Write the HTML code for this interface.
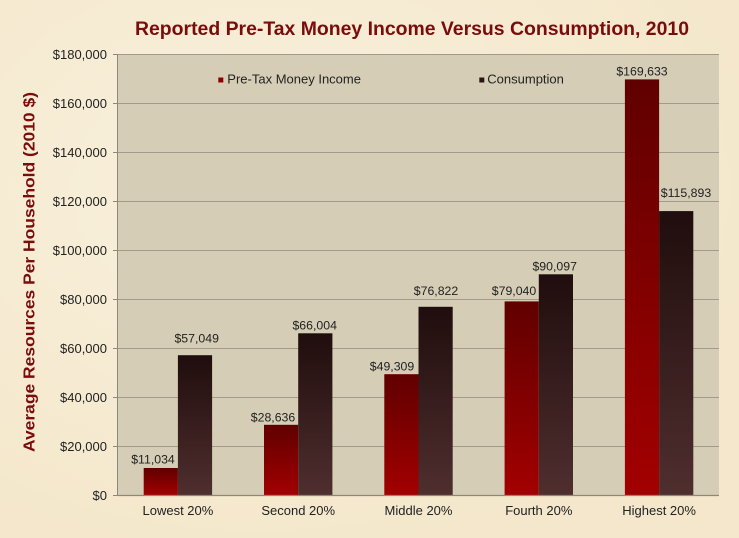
<!DOCTYPE html>
<html>
<head>
<meta charset="utf-8">
<style>
html,body{margin:0;padding:0;background:#f6ebd2;}
svg{display:block;}
text{font-family:"Liberation Sans",Arial,sans-serif;}
</style>
</head>
<body>
<svg width="739" height="538" viewBox="0 0 739 538" xmlns="http://www.w3.org/2000/svg">
<defs>
  <linearGradient id="inc" x1="0" y1="0" x2="0" y2="1">
    <stop offset="0" stop-color="#600000"/>
    <stop offset="1" stop-color="#a30000"/>
  </linearGradient>
  <linearGradient id="con" x1="0" y1="0" x2="0" y2="1">
    <stop offset="0" stop-color="#200d0d"/>
    <stop offset="1" stop-color="#4f2e2e"/>
  </linearGradient>
  <radialGradient id="bg1" cx="0.35" cy="0.35" r="0.7">
    <stop offset="0" stop-color="#f9f1dd"/>
    <stop offset="1" stop-color="#f4e7cb"/>
  </radialGradient>
</defs>
<rect x="0" y="0" width="739" height="538" fill="url(#bg1)"/>

<!-- Title -->
<text x="412" y="35" text-anchor="middle" font-size="19" font-weight="bold" fill="#7b0c0c" textLength="554" lengthAdjust="spacingAndGlyphs">Reported Pre-Tax Money Income Versus Consumption, 2010</text>

<!-- Plot area -->
<rect x="117.7" y="54" width="601.3" height="441" fill="#d5cdb6"/>

<!-- gridlines -->
<g stroke="#a39b8a" stroke-width="1">
  <line x1="117.7" y1="54.5" x2="719" y2="54.5"/>
  <line x1="117.7" y1="103.5" x2="719" y2="103.5"/>
  <line x1="117.7" y1="152.5" x2="719" y2="152.5"/>
  <line x1="117.7" y1="201.5" x2="719" y2="201.5"/>
  <line x1="117.7" y1="250.5" x2="719" y2="250.5"/>
  <line x1="117.7" y1="299.5" x2="719" y2="299.5"/>
  <line x1="117.7" y1="348.5" x2="719" y2="348.5"/>
  <line x1="117.7" y1="397.5" x2="719" y2="397.5"/>
  <line x1="117.7" y1="446.5" x2="719" y2="446.5"/>
</g>
<!-- ticks -->
<g stroke="#8f877a" stroke-width="1">
  <line x1="113" y1="54.5" x2="117.7" y2="54.5"/>
  <line x1="113" y1="103.5" x2="117.7" y2="103.5"/>
  <line x1="113" y1="152.5" x2="117.7" y2="152.5"/>
  <line x1="113" y1="201.5" x2="117.7" y2="201.5"/>
  <line x1="113" y1="250.5" x2="117.7" y2="250.5"/>
  <line x1="113" y1="299.5" x2="117.7" y2="299.5"/>
  <line x1="113" y1="348.5" x2="117.7" y2="348.5"/>
  <line x1="113" y1="397.5" x2="117.7" y2="397.5"/>
  <line x1="113" y1="446.5" x2="117.7" y2="446.5"/>
  <line x1="113" y1="495.5" x2="117.7" y2="495.5"/>
  <line x1="117.5" y1="54" x2="117.5" y2="495.5"/>
</g>

<!-- bars -->
<g fill="url(#inc)">
  <rect x="143.7" y="468.0" width="34.2" height="27.0"/>
  <rect x="264.0" y="424.8" width="34.2" height="70.2"/>
  <rect x="384.3" y="374.2" width="34.2" height="120.8"/>
  <rect x="504.6" y="301.4" width="34.2" height="193.6"/>
  <rect x="624.9" y="79.4" width="34.2" height="415.6"/>
</g>
<g fill="url(#con)">
  <rect x="177.9" y="355.2" width="34.2" height="139.8"/>
  <rect x="298.2" y="333.3" width="34.2" height="161.7"/>
  <rect x="418.5" y="306.8" width="34.2" height="188.2"/>
  <rect x="538.8" y="274.3" width="34.2" height="220.7"/>
  <rect x="659.1" y="211.1" width="34.2" height="283.9"/>
</g>

<!-- x axis line -->
<line x1="117.7" y1="495.5" x2="719" y2="495.5" stroke="#8f877a" stroke-width="1.2"/>

<!-- y tick labels -->
<g font-size="13" fill="#222" text-anchor="end">
  <text x="107" y="59">$180,000</text>
  <text x="107" y="108">$160,000</text>
  <text x="107" y="157">$140,000</text>
  <text x="107" y="206">$120,000</text>
  <text x="107" y="255">$100,000</text>
  <text x="107" y="304">$80,000</text>
  <text x="107" y="353">$60,000</text>
  <text x="107" y="402">$40,000</text>
  <text x="107" y="451">$20,000</text>
  <text x="107" y="500">$0</text>
</g>

<!-- category labels -->
<g font-size="13" fill="#222" text-anchor="middle">
  <text x="177.9" y="515">Lowest 20%</text>
  <text x="298.2" y="515">Second 20%</text>
  <text x="418.5" y="515">Middle 20%</text>
  <text x="538.8" y="515">Fourth 20%</text>
  <text x="659.1" y="515">Highest 20%</text>
</g>

<!-- data labels -->
<g font-size="12.3" fill="#222" text-anchor="middle">
  <text x="153" y="463.7">$11,034</text>
  <text x="196.7" y="342.3">$57,049</text>
  <text x="273" y="421.7">$28,636</text>
  <text x="314.7" y="329.3">$66,004</text>
  <text x="392" y="370.7">$49,309</text>
  <text x="436" y="295">$76,822</text>
  <text x="514" y="295">$79,040</text>
  <text x="554.7" y="270.7">$90,097</text>
  <text x="642" y="75.7">$169,633</text>
  <text x="686" y="197">$115,893</text>
</g>

<!-- legend -->
<rect x="218.3" y="77.5" width="5" height="5" fill="#8b0000"/>
<text x="227.3" y="83.3" font-size="13" fill="#222">Pre-Tax Money Income</text>
<rect x="479.3" y="77.5" width="5" height="5" fill="#2a1414"/>
<text x="487.3" y="83.3" font-size="13" fill="#222">Consumption</text>

<!-- y axis title -->
<text transform="translate(34.5,272) rotate(-90)" x="0" y="0" text-anchor="middle" font-size="16" font-weight="bold" fill="#7b0c0c" textLength="360" lengthAdjust="spacingAndGlyphs">Average Resources Per Household (2010 $)</text>
</svg>
</body>
</html>
